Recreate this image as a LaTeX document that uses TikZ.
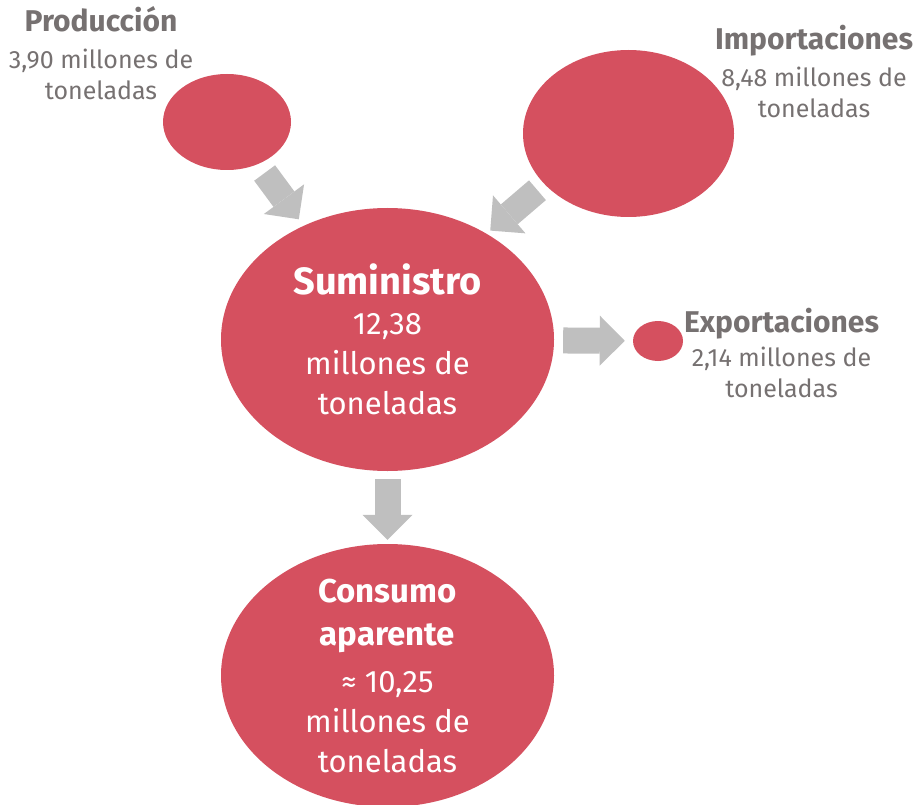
\documentclass[tikz,border=0pt]{standalone}
\usepackage{fontspec}
\setmainfont{Fira Sans}
\usetikzlibrary{shapes.geometric,arrows.meta}
\definecolor{bubblered}{HTML}{D5505F}
\definecolor{arrowgray}{HTML}{BFBFBF}
\definecolor{labelgray}{HTML}{767171}
\begin{document}
\begin{tikzpicture}[x=1pt,y=-1pt,
  bubble/.style={ellipse, fill=bubblered, draw=none, inner sep=0pt},
  flow/.style={draw=arrowgray, line width=26pt,
    -{Triangle[length=25pt 0 0, width=50pt 0 0, line width=0pt]}},
  smalltitle/.style={text=labelgray, inner sep=0pt, anchor=base,
    font=\fontsize{30}{31}\selectfont\bfseries},
  smallvalue/.style={text=labelgray, inner sep=0pt, anchor=north, align=center,
    font=\fontsize{25}{31}\selectfont},
  bigtext/.style={text=white, inner sep=0pt, align=center,
    font=\fontsize{31}{40}\selectfont}]
\useasboundingbox (0,0) rectangle (921,805);
% bubbles
\node[bubble, minimum width=128pt, minimum height=96pt] (prod) at (227,122) {};
\node[bubble, minimum width=211pt, minimum height=167pt] (imp) at (628.5,133.5) {};
\node[bubble, minimum width=333pt, minimum height=263pt] (sum) at (387.5,339.5) {};
\node[bubble, minimum width=50pt, minimum height=40pt] (exp) at (658,341) {};
\node[bubble, minimum width=333pt, minimum height=263pt] (cons) at (387.5,675.5) {};
% texts in bubbles
\node[bigtext] (sumtext) at (sum.center)
  {{\fontsize{38}{42}\selectfont\bfseries Suministro}\\12,38\\millones de\\toneladas};
\node[bigtext] (constext) at (cons.center)
  {{\fontsize{33}{40}\selectfont\bfseries Consumo}\\[3pt]{\fontsize{33}{40}\selectfont\bfseries aparente}\\[7pt]≈ 10,25\\millones de\\toneladas};
% labels
\node[smalltitle] (prodtitle) at (101,32) {Producción};
\node[smallvalue] (prodvalue) at (101,48.5) {3,90 millones de\\toneladas};
\node[smalltitle] (imptitle) at (814,50) {Importaciones};
\node[smallvalue] (impvalue) at (814,66.5) {8,48 millones de\\toneladas};
\node[smalltitle] (exptitle) at (781.5,332) {Exportaciones};
\node[smallvalue] (expvalue) at (781.5,346.5) {2,14 millones de\\toneladas};
% arrows
\draw[flow, shorten <=11pt, shorten >=8pt] (prod) -- (sum);
\draw[flow, shorten <=11.6pt, shorten >=0pt, transform canvas={shift={(-10.4,-12.2)}}] (imp) -- (sum);
\draw[flow, shorten <=9pt, shorten >=8pt] (sum) -- (exp);
\draw[flow, shorten <=8pt, shorten >=4pt] (sum) -- (cons);
\end{tikzpicture}
\end{document}
